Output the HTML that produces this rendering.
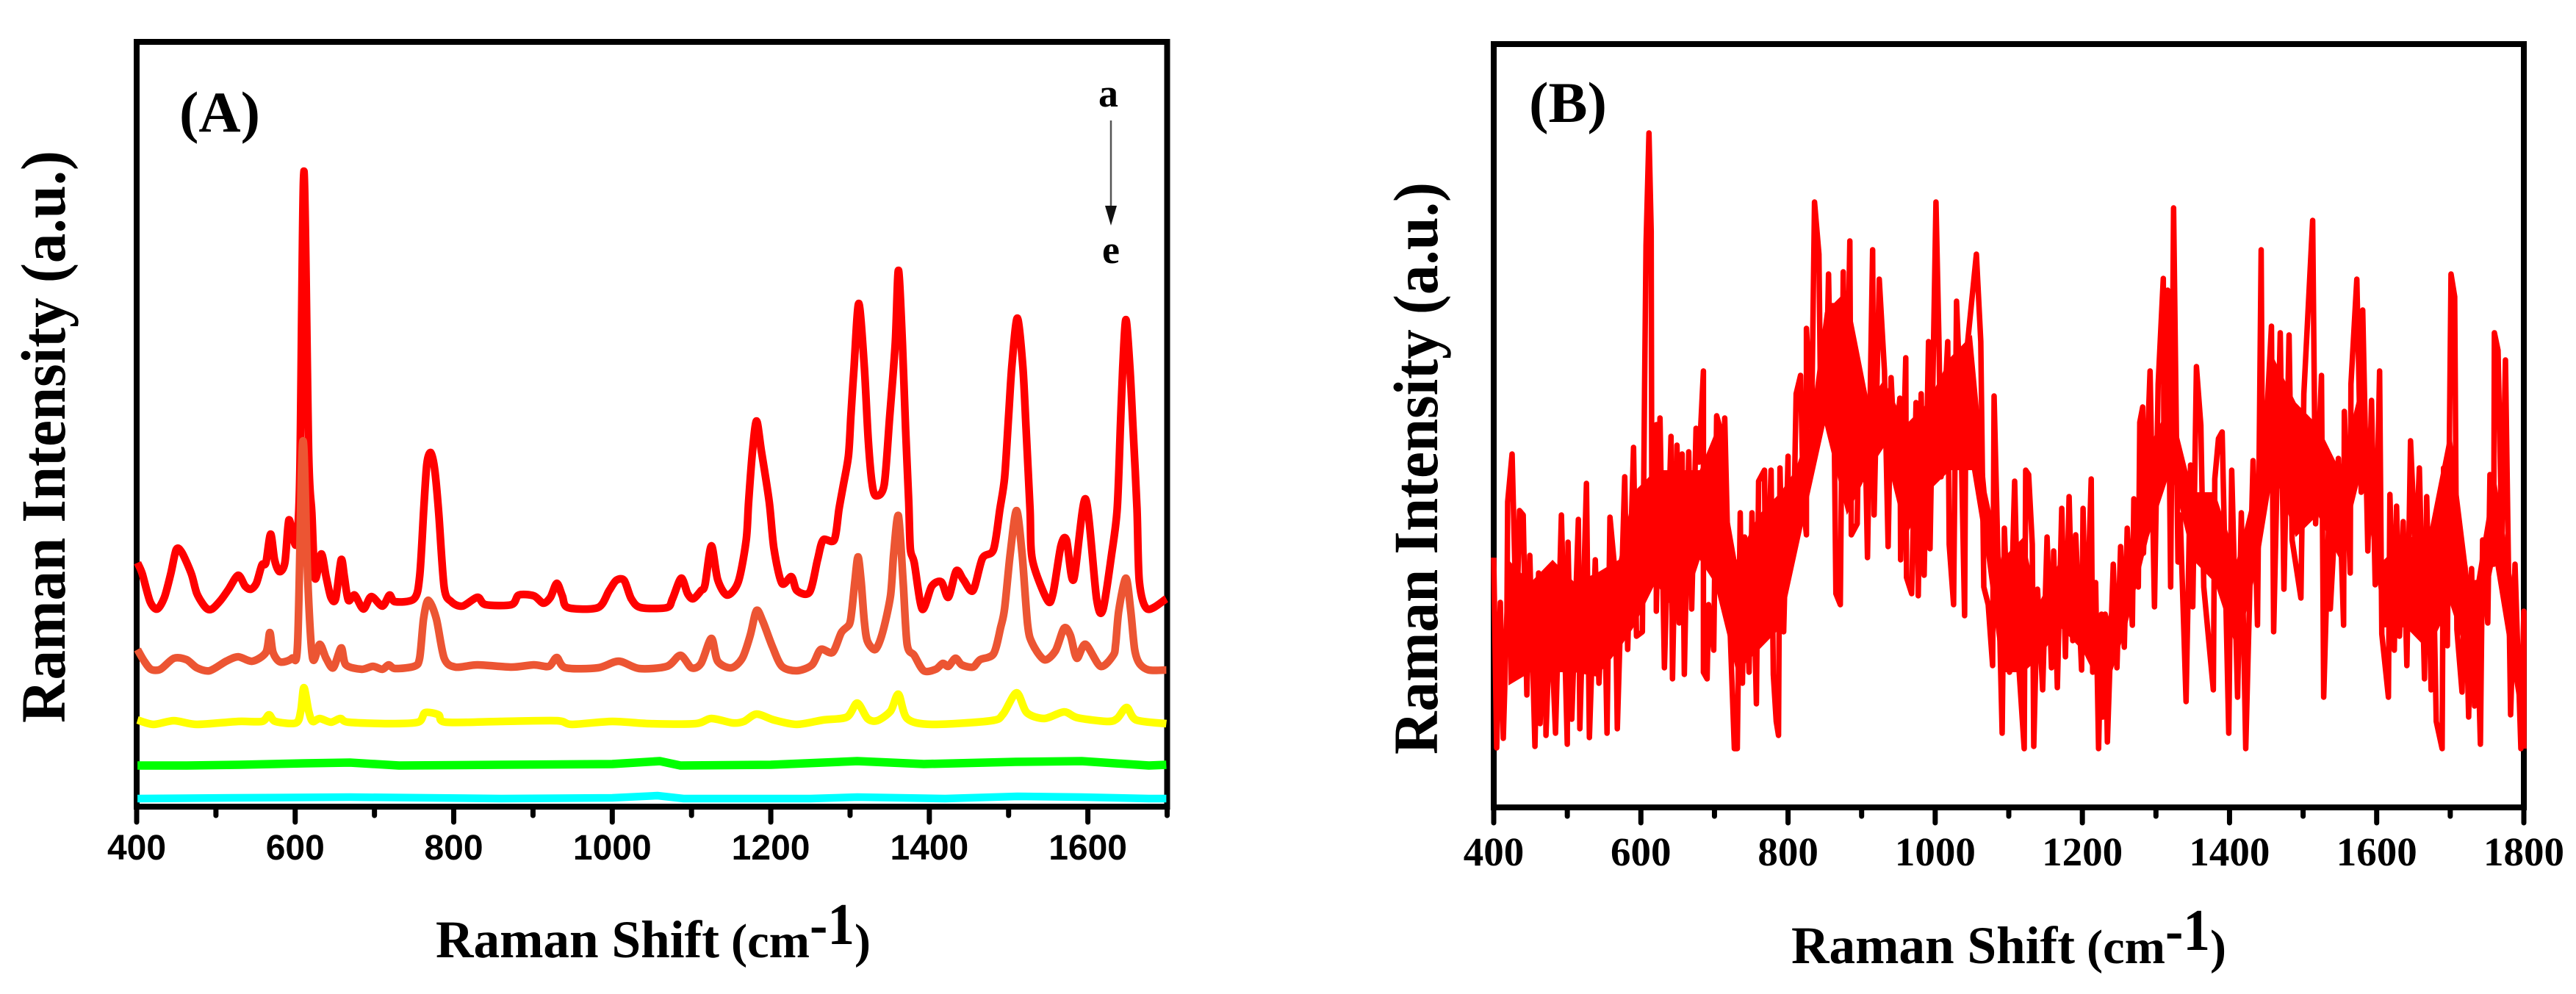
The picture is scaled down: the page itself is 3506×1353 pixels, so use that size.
<!DOCTYPE html>
<html lang="en">
<head>
<meta charset="utf-8">
<title>Raman spectra panels A and B</title>
<style>
html,body{margin:0;padding:0;background:#fff;}
svg{display:block;}
text{fill:#000;font-family:"Liberation Serif",serif;font-weight:bold;}
.sans{font-family:"Liberation Sans",sans-serif;}
</style>
</head>
<body>
<svg id="fig" xmlns="http://www.w3.org/2000/svg" width="3506" height="1353" viewBox="0 0 3506 1353">
  <rect x="0" y="0" width="3506" height="1353" fill="#fff"/>
  <g id="panelA"></g>
  <g id="panelB"></g>

  <text x="244" y="179" font-size="78" textLength="110" lengthAdjust="spacingAndGlyphs">(A)</text>
  <text x="1495" y="145" font-size="54">a</text>
  <line x1="1512" y1="164" x2="1512" y2="284" stroke="#555" stroke-width="2.5"/>
  <polygon points="1504,280 1520,280 1512,307" fill="#111"/>
  <text x="1500" y="358" font-size="54">e</text>
  <text x="593" y="1303" font-size="72" textLength="386" lengthAdjust="spacingAndGlyphs">Raman Shift</text>
  <text x="995" y="1303" font-size="66" textLength="107" lengthAdjust="spacingAndGlyphs">(cm</text>
  <text x="1102" y="1285" font-size="80" textLength="61" lengthAdjust="spacingAndGlyphs">-1</text>
  <text x="1163" y="1303" font-size="66">)</text>
  <text transform="translate(88 984) rotate(-90)" x="0" y="0" font-size="86" textLength="779" lengthAdjust="spacingAndGlyphs">Raman Intensity (a.u.)</text>

  <text x="2081" y="166" font-size="78" textLength="106" lengthAdjust="spacingAndGlyphs">(B)</text>
  <text x="2438" y="1311" font-size="72" textLength="386" lengthAdjust="spacingAndGlyphs">Raman Shift</text>
  <text x="2840" y="1311" font-size="66" textLength="107" lengthAdjust="spacingAndGlyphs">(cm</text>
  <text x="2947" y="1293" font-size="80" textLength="61" lengthAdjust="spacingAndGlyphs">-1</text>
  <text x="3008" y="1311" font-size="66">)</text>
  <text transform="translate(1956 1027) rotate(-90)" x="0" y="0" font-size="86" textLength="779" lengthAdjust="spacingAndGlyphs">Raman Intensity (a.u.)</text>
</svg>
<script>
// Tick values
const aMajorTicks = [400,600,800,1000,1200,1400,1600];
const aMinorTicks = [500,700,900,1100,1300,1500,1700];
const bMajorTicks = [400,600,800,1000,1200,1400,1600,1800];
const bMinorTicks = [500,700,900,1100,1300,1500,1700];

// Panel A: spectrum a (red)
const redWave = [401,407,417,426,435,443,450,457,469,476,487,495,506,516,528,537,544,551,558,563,569,574,580,587,592,598,602,606,611,617,621,625,633,639,645,651,658,662,667,675,686,696,710,719,726,750,757,762,766,771,776,781,788,797,811,830,840,873,882,901,913,922,930,937,944,982,996,1005,1015,1024,1036,1069,1076,1087,1095,1102,1112,1117,1125,1133,1145,1159,1169,1172,1177,1182,1188,1198,1204,1214,1226,1233,1249,1259,1266,1280,1286,1291,1298,1301,1305,1311,1318,1323,1328,1333,1343,1350,1357,1361,1366,1370,1374,1376,1381,1391,1403,1415,1424,1434,1443,1455,1467,1481,1489,1495,1500,1504,1511,1518,1522,1527,1530,1549,1556,1566,1573,1582,1597,1611,1619,1630,1637,1641,1644,1648,1653,1657,1662,1665,1675,1699];
const redIntensity = [332,317,279,269,285,317,350,346,317,290,271,269,281,296,315,300,296,304,329,332,371,336,320,332,390,363,363,459,865,480,400,311,344,313,285,283,336,313,281,288,269,286,273,288,279,283,313,401,466,482,459,401,298,279,273,285,275,275,288,287,277,285,304,287,271,271,294,308,308,283,271,271,283,311,290,283,294,302,355,309,288,306,363,415,485,525,485,415,351,304,313,294,292,336,363,363,405,435,478,531,598,685,598,498,438,423,438,531,631,730,631,515,415,351,332,269,300,306,285,321,309,294,338,350,405,448,531,598,665,598,515,405,336,281,290,355,363,309,419,283,268,344,405,515,598,663,598,515,405,306,269,283];

// Panel A: spectrum b (orange)
const orangeWave = [401,409,418,430,447,463,476,492,513,528,546,563,568,572,581,596,603,608,611,616,622,631,639,648,658,664,684,698,710,718,726,750,757,762,768,778,788,802,830,873,901,920,930,941,982,1008,1034,1069,1086,1100,1112,1125,1133,1150,1164,1174,1182,1190,1202,1214,1233,1252,1263,1278,1289,1299,1302,1306,1310,1314,1318,1322,1332,1341,1351,1355,1361,1367,1372,1381,1393,1408,1417,1424,1433,1441,1455,1464,1481,1490,1495,1502,1510,1517,1524,1530,1545,1559,1570,1578,1586,1597,1616,1632,1635,1639,1648,1654,1659,1665,1677,1699];
const orangeIntensity = [214,199,187,187,202,200,189,185,198,204,198,210,237,210,197,202,221,459,487,306,202,221,202,189,216,193,187,191,187,193,188,191,202,256,281,256,202,190,193,190,193,191,203,189,189,198,188,191,206,189,195,229,198,189,202,233,267,252,218,191,185,193,214,210,237,248,265,306,340,306,252,225,214,237,287,344,396,306,221,206,185,187,195,191,202,193,190,200,208,244,270,344,403,344,248,222,200,212,243,233,202,221,191,206,221,267,311,267,214,195,186,186];

// Panel A: spectrum c (yellow)
const yellowWave = [401,421,447,476,528,558,567,575,601,607,611,617,622,631,645,657,667,717,755,764,781,790,859,930,949,1000,1047,1105,1125,1152,1166,1182,1204,1233,1266,1296,1309,1322,1334,1351,1361,1372,1403,1478,1493,1510,1523,1545,1570,1587,1625,1637,1649,1661,1699];
const yellowIntensity = [118,112,117,112,116,116,125,116,114,130,162,130,116,120,115,120,115,113,115,128,125,115,116,117,112,116,113,113,120,114,116,126,118,112,118,122,141,120,117,130,153,120,112,117,126,155,128,120,129,121,116,120,135,118,113];

// Panel A: spectrum d (green)
const greenWave = [401,460,530,612,669,731,860,1000,1060,1086,1200,1309,1393,1509,1592,1677,1699];
const greenIntensity = [56,56,57,59,60,56,57,58,62,56,57,62,58,61,62,56,57];

// Panel A: spectrum e (cyan)
const cyanWave = [401,520,669,860,1000,1057,1090,1250,1309,1420,1511,1592,1677,1699];
const cyanIntensity = [11,12,13,11,12,15,11,11,13,11,14,13,11,11];

// Panel B: single spectrum (red)
const bWave = [400,404,409,413,418,419,425,431,435,440,445,449,456,461,463,470,471,477,484,492,500,501,506,515,517,526,530,538,543,550,554,558,565,568,578,582,590,594,602,605,607,611,614,615,621,621,626,632,641,643,649,652,656,659,665,669,675,679,685,685,690,692,699,703,708,711,714,720,727,731,735,738,741,747,751,757,760,768,770,777,780,784,787,789,794,800,800,807,811,817,821,825,825,832,836,842,844,851,855,858,861,865,871,875,878,884,886,894,897,904,908,915,917,924,931,936,940,945,952,953,960,961,968,974,977,981,985,991,993,1001,1005,1008,1017,1019,1025,1029,1034,1040,1042,1056,1062,1066,1072,1078,1080,1091,1094,1101,1108,1114,1121,1123,1127,1132,1134,1139,1146,1152,1158,1161,1166,1172,1177,1182,1187,1191,1199,1201,1205,1212,1214,1218,1222,1226,1228,1231,1234,1242,1247,1252,1257,1261,1268,1270,1276,1278,1282,1283,1292,1298,1303,1310,1311,1316,1320,1324,1330,1333,1341,1347,1350,1355,1361,1365,1378,1380,1385,1390,1399,1403,1411,1416,1422,1432,1438,1443,1445,1457,1460,1469,1474,1481,1485,1497,1501,1513,1517,1525,1528,1537,1537,1548,1555,1556,1564,1565,1573,1579,1581,1588,1593,1598,1604,1607,1616,1618,1624,1627,1631,1636,1641,1646,1653,1658,1665,1668,1674,1676,1681,1689,1691,1696,1701,1706,1709,1716,1720,1725,1729,1733,1735,1741,1744,1751,1754,1759,1760,1765,1770,1775,1782,1788,1796,1800,1800];
const bIntensity = [340,81,279,94,266,416,481,239,404,398,153,343,83,319,114,319,98,270,101,398,86,361,120,392,107,441,95,337,169,319,101,395,319,107,450,215,490,233,239,570,765,918,784,349,521,267,530,190,505,175,493,251,481,181,484,270,516,470,594,184,175,276,214,533,515,306,530,276,80,80,401,169,368,184,401,141,444,459,245,459,181,117,98,462,239,478,331,343,563,588,410,371,652,518,824,753,576,527,726,560,683,291,276,729,429,771,371,386,591,551,340,759,398,719,594,355,585,480,557,337,612,313,291,551,288,563,316,634,352,824,637,450,634,358,276,689,560,261,612,753,634,300,276,193,560,101,380,184,444,187,80,459,453,358,83,297,160,368,190,349,163,407,205,423,227,371,187,407,214,447,184,306,80,263,123,263,89,331,190,355,218,380,248,420,300,524,545,346,594,273,576,720,453,704,300,816,334,398,144,466,273,600,520,300,160,447,502,511,101,459,150,401,80,472,248,759,423,655,239,646,297,643,364,285,563,799,386,588,150,468,270,475,248,539,319,576,719,429,677,349,554,303,594,236,150,426,214,410,233,389,193,499,337,462,175,423,160,380,117,80,462,220,726,695,242,157,328,123,325,138,306,86,364,251,453,331,646,622,361,609,126,331,80,267,80];

// Panel B: solidly filled core of the dense spectrum
const bCoreWave = [420,450,480,510,540,570,590,620,640,660,680,700,730,760,790,810,830,850,880,910,930,960,990,1020,1050,1070,1090,1120,1140,1170,1200,1230,1260,1290,1320,1350,1380,1410,1440,1460,1490,1520,1550,1580,1610,1640,1670,1700,1730,1760,1790];
const bCoreHigh = [337,306,337,306,319,337,429,459,459,459,459,508,337,398,429,459,520,674,704,551,582,521,551,612,643,429,337,368,276,337,306,245,337,490,551,429,429,337,459,612,551,520,459,582,337,368,368,520,276,459,276];
const bCoreLow = [166,184,184,184,178,215,245,306,276,276,337,306,184,214,245,337,429,520,398,459,490,368,429,459,459,337,184,184,202,245,214,153,245,368,459,337,306,214,337,459,368,398,337,459,245,245,214,276,184,337,153];

// Axis functions
const aLeft = 186, aRight = 1588.5, aTop = 57, aBottom = 1098;
const bLeft = 2033, bRight = 3435, bTop = 60, bBottom = 1099;
function xA(w){ return aLeft + (w - 400) * (aRight - aLeft) / 1300; }
function yA(i){ return aBottom - i; }
function xB(w){ return bLeft + (w - 400) * (bRight - bLeft) / 1400; }
function yB(i){ return bBottom - i; }

const SVGNS = 'http://www.w3.org/2000/svg';
const panelA = document.getElementById('panelA');
const panelB = document.getElementById('panelB');

function linePath(xs, ys, fx, fy){
  let d = '';
  for (let k = 0; k < xs.length; k++) {
    d += (k ? 'L' : 'M') + fx(xs[k]).toFixed(1) + ' ' + fy(ys[k]).toFixed(1);
  }
  return d;
}

function smoothPath(xs, ys, fx, fy){
  const px = xs.map(fx);
  const py = ys.map(fy);
  const n = px.length;
  const c = 1 / 7;
  let d = 'M' + px[0].toFixed(1) + ' ' + py[0].toFixed(1);
  for (let k = 0; k < n - 1; k++) {
    const a = Math.max(k - 1, 0);
    const b = Math.min(k + 2, n - 1);
    const c1x = px[k] + (px[k + 1] - px[a]) * c;
    const c1y = py[k] + (py[k + 1] - py[a]) * c;
    const c2x = px[k + 1] - (px[b] - px[k]) * c;
    const c2y = py[k + 1] - (py[b] - py[k]) * c;
    d += 'C' + c1x.toFixed(1) + ' ' + c1y.toFixed(1) + ' ' + c2x.toFixed(1) + ' ' + c2y.toFixed(1) + ' ' + px[k + 1].toFixed(1) + ' ' + py[k + 1].toFixed(1);
  }
  return d;
}

function drawFrame(parent, left, right, top, bottom){
  const el = document.createElementNS(SVGNS, 'rect');
  el.setAttribute('x', left);
  el.setAttribute('y', top);
  el.setAttribute('width', right - left);
  el.setAttribute('height', bottom - top);
  el.setAttribute('fill', 'none');
  el.setAttribute('stroke', '#000');
  el.setAttribute('stroke-width', '8');
  
  
  parent.appendChild(el);
}

function drawTick(parent, x, y1, y2){
  const el = document.createElementNS(SVGNS, 'line');
  el.setAttribute('x1', x);
  el.setAttribute('x2', x);
  el.setAttribute('y1', y1);
  el.setAttribute('y2', y2);
  el.setAttribute('stroke', '#000');
  el.setAttribute('stroke-width', '7');
  el.setAttribute('stroke-linecap', 'round');
  
  
  parent.appendChild(el);
}

function drawTickLabel(parent, x, y, value, size, cls){
  const el = document.createElementNS(SVGNS, 'text');
  el.setAttribute('x', x);
  el.setAttribute('y', y);
  el.setAttribute('text-anchor', 'middle');
  el.setAttribute('font-size', size);
  if (cls) el.setAttribute('class', cls);
  
  
  el.textContent = value;
  parent.appendChild(el);
}

function drawSeries(parent, d, color, width, name){
  const el = document.createElementNS(SVGNS, 'path');
  el.setAttribute('d', d);
  el.setAttribute('fill', 'none');
  el.setAttribute('stroke', color);
  el.setAttribute('stroke-width', width);
  el.setAttribute('stroke-linejoin', 'round');
  
  
  parent.appendChild(el);
}

function drawCore(parent, xs, hi, lo, fx, fy){
  let pts = '';
  for (let k = 0; k < xs.length; k++) {
    pts += fx(xs[k]).toFixed(1) + ',' + fy(hi[k]).toFixed(1) + ' ';
  }
  for (let k = xs.length - 1; k >= 0; k--) {
    pts += fx(xs[k]).toFixed(1) + ',' + fy(lo[k]).toFixed(1) + ' ';
  }
  const el = document.createElementNS(SVGNS, 'polygon');
  el.setAttribute('points', pts);
  el.setAttribute('fill', '#ff0000');
  
  
  parent.appendChild(el);
}

// Panel A
drawFrame(panelA, aLeft, aRight, aTop, aBottom);
aMajorTicks.forEach(function(t){
  drawTick(panelA, xA(t), aBottom, aBottom + 21);
  drawTickLabel(panelA, xA(t), 1170, t, 48, 'sans');
});
aMinorTicks.forEach(function(t){
  drawTick(panelA, xA(t), aBottom, aBottom + 12);
});
drawSeries(panelA, smoothPath(redWave, redIntensity, xA, yA), '#ff0000', 10.5, 'series-a-red');
drawSeries(panelA, smoothPath(orangeWave, orangeIntensity, xA, yA), '#ec5533', 10.5, 'series-b-orange');
drawSeries(panelA, smoothPath(yellowWave, yellowIntensity, xA, yA), '#ffff00', 10.5, 'series-c-yellow');
drawSeries(panelA, linePath(greenWave, greenIntensity, xA, yA), '#00ff00', 11.5, 'series-d-green');
drawSeries(panelA, linePath(cyanWave, cyanIntensity, xA, yA), '#00ffff', 10.5, 'series-e-cyan');

// Panel B
drawFrame(panelB, bLeft, bRight, bTop, bBottom);
bMajorTicks.forEach(function(t){
  drawTick(panelB, xB(t), bBottom, bBottom + 21);
  drawTickLabel(panelB, xB(t), 1178, t, 55, '');
});
bMinorTicks.forEach(function(t){
  drawTick(panelB, xB(t), bBottom, bBottom + 12);
});
drawCore(panelB, bCoreWave, bCoreHigh, bCoreLow, xB, yB);
drawSeries(panelB, linePath(bWave, bIntensity, xB, yB), '#ff0000', 7.5, 'series-raman-red');
</script>
</body>
</html>
